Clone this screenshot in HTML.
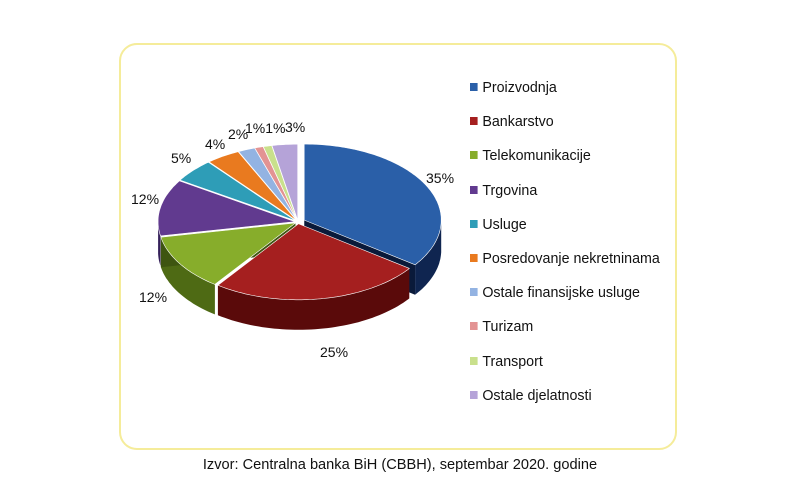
<!DOCTYPE html>
<html><head><meta charset="utf-8"><style>
body{margin:0;background:#fff;width:800px;height:500px;overflow:hidden;font-family:"Liberation Sans",sans-serif}
.box{position:absolute;left:119px;top:43px;width:558px;height:407px;border:2px solid #f5ec9a;border-radius:18px;box-sizing:border-box}
.lg{position:absolute;left:470px;font-size:15px;color:#111;transform:scaleX(0.95);transform-origin:left}
.lg i{display:inline-block;width:8px;height:8px;margin-right:5px;vertical-align:1px}
.cap{position:absolute;top:457px;left:0;width:800px;text-align:center;font-size:14.6px;color:#111}
</style></head><body>
<div class="box"></div>
<svg id="s" width="800" height="500" style="position:absolute;left:0;top:0"></svg>
<div id="leg"></div>
<div class="cap">Izvor: Centralna banka BiH (CBBH), septembar 2020. godine</div>
<script>
var d=[[35,'#2a5fa8','#0f2550','Proizvodnja'],[25,'#a51f1f','#5a0a0a','Bankarstvo'],[12,'#87ad2b','#4e6a14','Telekomunikacije'],[12,'#613a8f','#35205a','Trgovina'],[5,'#2e9db7','#1a6070','Usluge'],[4,'#e97a1f','#9a4a10','Posredovanje nekretninama'],[2,'#93b3e2','#5a78a8','Ostale finansijske usluge'],[1,'#e39393','#a05a5a','Turizam'],[1,'#c9e08c','#8aa050','Transport'],[3,'#b5a3d8','#7a6aa0','Ostale djelatnosti']];
var cx=298,cy=222,rx=137,ry=76,h=30,s='',tops='',a=-Math.PI/2;
var leg='';
d.forEach(function(v,i){
 var a0=a,a1=a+v[0]/100*2*Math.PI;a=a1;var m=(a0+a1)/2,ex=(i==0?7:3);
 var ox=cx+ex*Math.cos(m),oy=cy+ex*Math.sin(m)*0.6;
 function P(t,dy){return [(ox+rx*Math.cos(t)).toFixed(1),(oy+ry*Math.sin(t)+dy).toFixed(1)]}
 var b0=Math.max(a0,0),b1=Math.min(a1,Math.PI);
 if(b1>b0){var p='M'+P(b0,0);for(var t=b0;t<=b1;t+=0.03)p+=' L'+P(t,0);p+=' L'+P(b1,0);
  for(var t=b1;t>=b0;t-=0.03)p+=' L'+P(t,h);p+=' L'+P(b0,h)+'Z';s+='<path d="'+p+'" fill="'+v[2]+'"/>';}
 if(i==0){var q=P(a1,0);s+='<path d="M'+ox+','+oy+' L'+q+' L'+q[0]+','+(+q[1]+h)+' L'+ox+','+(oy+h)+'Z" fill="#0a1a3a"/>';}
 if(i==2){var q=P(a1,0);s+='<path d="M'+ox+','+oy+' L'+q+' L'+q[0]+','+(+q[1]+h)+' L'+ox+','+(oy+h)+'Z" fill="#3e5510"/>';}
 var p='M'+ox+','+oy;for(var t=a0;t<=a1;t+=0.02)p+=' L'+P(t,0);p+=' L'+P(a1,0)+'Z';
 tops+='<path d="'+p+'" fill="'+v[1]+'" stroke="#fff" stroke-width="0.6"/>';
 leg+='<div class="lg" style="top:'+(79+i*34.2)+'px"><i style="background:'+v[1]+'"></i>'+v[3]+'</div>';
});
var L=[['35%',426,183],['25%',320,357],['12%',139,302],['12%',131,204],['5%',171,163],['4%',205,149],['2%',228,139],['1%1%',245,133],['3%',285,132]];
var t='';L.forEach(function(l){t+='<text x="'+l[1]+'" y="'+l[2]+'" font-size="14" fill="#111" font-family="Liberation Sans">'+l[0]+'</text>'});
document.getElementById('s').innerHTML=s+tops+t;
document.getElementById('leg').innerHTML=leg;
</script>
</body></html>
